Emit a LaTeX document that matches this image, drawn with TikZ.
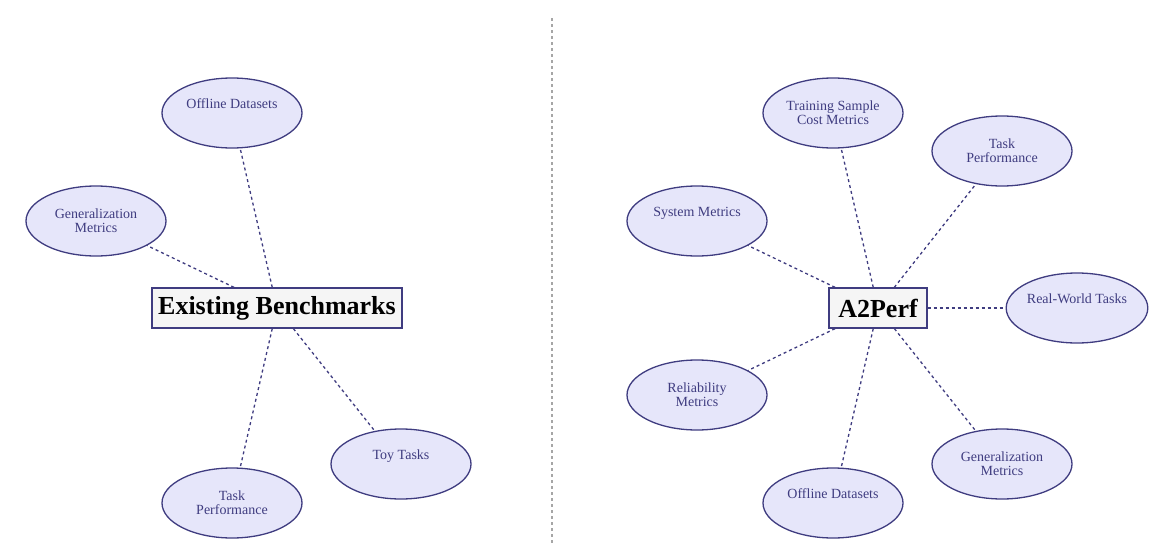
\documentclass[tikz,border=0pt]{standalone}
\usepackage{fontspec}
\setmainfont{Liberation Serif}
\usetikzlibrary{shapes.geometric}
\definecolor{ed}{HTML}{3F3C80}
\definecolor{ef}{HTML}{E6E6FA}
\begin{document}
\begin{tikzpicture}[x=1pt,y=-1pt,
  el/.style={ellipse,draw=ed,fill=ef,line width=1.3pt,minimum width=140pt,minimum height=70pt,inner sep=0pt,text=ed,font=\fontsize{14}{14}\selectfont,align=center},
  hub/.style={draw=ed,fill=white!96!black,line width=1.3pt,minimum height=40pt,inner sep=0pt,font=\fontsize{26}{26}\selectfont\bfseries},
  con/.style={draw=ed,dashed,line width=1.3pt}]
\useasboundingbox (0,0) rectangle (1168,546);
\draw[gray!70,dashed,line width=1.2pt] (552,18) -- (552,543);
\node[hub,minimum width=250pt] (eb) at (277,308) {Existing Benchmarks};
\node[el] (l1) at (232,113) {Offline Datasets\\[4pt]};
\node[el] (l2) at (96,221) {Generalization\\Metrics};
\node[el] (l3) at (232,503) {Task\\Performance};
\node[el] (l4) at (401,464) {Toy Tasks\\[4pt]};
\foreach \n in {l1,l2,l3,l4} \draw[con] (eb) -- (\n);
\node[hub,minimum width=98pt] (ap) at (878,308) {A2Perf};
\node[el] (r1) at (833,113) {Training Sample\\Cost Metrics};
\node[el] (r2) at (1002,151) {Task\\Performance};
\node[el] (r3) at (697,221) {System Metrics\\[4pt]};
\node[el] (r4) at (1077,308) {Real-World Tasks\\[4pt]};
\node[el] (r5) at (697,395) {Reliability\\Metrics};
\node[el] (r6) at (833,503) {Offline Datasets\\[4pt]};
\node[el] (r7) at (1002,464) {Generalization\\Metrics};
\foreach \n in {r1,r2,r3,r4,r5,r6,r7} \draw[con] (ap) -- (\n);
\end{tikzpicture}
\end{document}
